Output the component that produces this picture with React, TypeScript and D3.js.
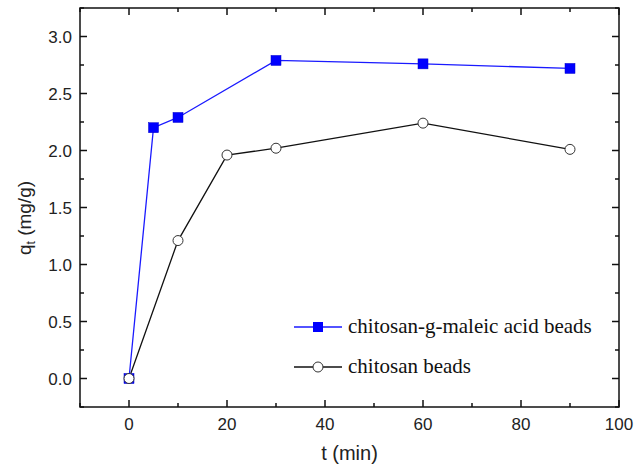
import React, { useRef, useEffect } from "react";
import * as d3 from "d3";

// values
const maleicT = [0, 5, 10, 30, 60, 90];
const maleicQ = [0, 2.2, 2.29, 2.79, 2.76, 2.72];
const chitosanT = [0, 10, 20, 30, 60, 90];
const chitosanQ = [0, 1.21, 1.96, 2.02, 2.24, 2.01];
const xTicks = [0, 20, 40, 60, 80, 100];
const yTicks = [0, 0.5, 1, 1.5, 2, 2.5, 3];
const seriesNames = ["chitosan-g-maleic acid beads", "chitosan beads"];

const W = 644;
const H = 468;
const left = 80, right = 619, top = 8, bottom = 407;

export default function App() {
  const ref = useRef<SVGSVGElement>(null);

  useEffect(() => {
    const svg = d3.select(ref.current);
    svg.selectAll("*").remove();

    const x = d3.scaleLinear().domain([-10, 100]).range([left, right]);
    const y = d3.scaleLinear().domain([-0.25, 3.25]).range([bottom, top]);
    const sans = "'Liberation Sans', Arial, sans-serif";
    const serif = "'Liberation Serif', 'Times New Roman', serif";

    const xMinor = d3.range(-10, 101, 10).filter(v => !xTicks.includes(v));
    const yMinor = d3.range(-0.25, 3.26, 0.25).filter(v => !yTicks.some(t => Math.abs(t - v) < 1e-6));

    const axes = svg.append("g").attr("stroke", "#111").attr("stroke-width", 1.5);

    // inward ticks on all four sides
    const tick = (x1: number, y1: number, x2: number, y2: number) =>
      axes.append("line").attr("x1", x1).attr("y1", y1).attr("x2", x2).attr("y2", y2);
    xTicks.forEach(v => { tick(x(v), bottom, x(v), bottom - 7); tick(x(v), top, x(v), top + 7); });
    xMinor.forEach(v => { tick(x(v), bottom, x(v), bottom - 4); tick(x(v), top, x(v), top + 4); });
    yTicks.forEach(v => { tick(left, y(v), left + 7, y(v)); tick(right, y(v), right - 7, y(v)); });
    yMinor.forEach(v => { tick(left, y(v), left + 4, y(v)); tick(right, y(v), right - 4, y(v)); });

    axes.append("rect")
      .attr("x", left).attr("y", top)
      .attr("width", right - left).attr("height", bottom - top)
      .attr("fill", "none");

    svg.append("g").selectAll("text").data(xTicks).join("text")
      .attr("x", d => x(d)).attr("y", 430)
      .attr("text-anchor", "middle")
      .attr("font-family", sans).attr("font-size", 17).attr("fill", "#222")
      .text(d => d);

    svg.append("g").selectAll("text").data(yTicks).join("text")
      .attr("x", left - 8).attr("y", d => y(d) + 6)
      .attr("text-anchor", "end")
      .attr("font-family", sans).attr("font-size", 17).attr("fill", "#222")
      .text(d => d3.format(".1f")(d));

    svg.append("text")
      .attr("x", (left + right) / 2).attr("y", 460)
      .attr("text-anchor", "middle")
      .attr("font-family", sans).attr("font-size", 20).attr("fill", "#222")
      .text("t (min)");

    const yl = svg.append("text")
      .attr("transform", "translate(31, 218) rotate(-90)")
      .attr("text-anchor", "middle")
      .attr("font-family", sans).attr("font-size", 19).attr("fill", "#222");
    yl.append("tspan").text("q");
    yl.append("tspan").attr("font-size", 12).attr("dy", 4).text("t");
    yl.append("tspan").attr("dy", -4).text(" (mg/g)");

    const line = d3.line<[number, number]>().x(d => x(d[0])).y(d => y(d[1]));
    const maleic: [number, number][] = maleicT.map((t, i) => [t, maleicQ[i]]);
    const chitosan: [number, number][] = chitosanT.map((t, i) => [t, chitosanQ[i]]);

    svg.append("path").datum(chitosan).attr("d", line)
      .attr("fill", "none").attr("stroke", "#111").attr("stroke-width", 1.3);
    svg.append("path").datum(maleic).attr("d", line)
      .attr("fill", "none").attr("stroke", "#1a1aff").attr("stroke-width", 1.3);

    svg.append("g").selectAll("rect").data(maleic).join("rect")
      .attr("x", d => x(d[0]) - 5).attr("y", d => y(d[1]) - 5)
      .attr("width", 10).attr("height", 10)
      .attr("fill", "#0000ff").attr("stroke", "#0000cc").attr("stroke-width", 0.5);

    svg.append("g").selectAll("circle").data(chitosan).join("circle")
      .attr("cx", d => x(d[0])).attr("cy", d => y(d[1])).attr("r", 5)
      .attr("fill", "white").attr("stroke", "#333").attr("stroke-width", 1);

    // legend
    const lg = svg.append("g");
    const ly = [327, 367];
    const lx1 = 294, lx2 = 342, lxm = (lx1 + lx2) / 2;
    seriesNames.forEach((name, i) => {
      lg.append("line").attr("x1", lx1).attr("x2", lx2).attr("y1", ly[i]).attr("y2", ly[i])
        .attr("stroke", i === 0 ? "#1a1aff" : "#111").attr("stroke-width", 1.3);
      if (i === 0) {
        lg.append("rect").attr("x", lxm - 5).attr("y", ly[i] - 5).attr("width", 10).attr("height", 10)
          .attr("fill", "#0000ff");
      } else {
        lg.append("circle").attr("cx", lxm).attr("cy", ly[i]).attr("r", 5)
          .attr("fill", "white").attr("stroke", "#333");
      }
      lg.append("text").attr("x", 348).attr("y", ly[i] + 6)
        .attr("font-family", serif).attr("font-size", 21).attr("fill", "#111")
        .text(name);
    });
  }, []);

  return (
    <svg ref={ref} width={W} height={H}
      style={{ position: "absolute", left: 0, top: 0, background: "white" }} />
  );
}
